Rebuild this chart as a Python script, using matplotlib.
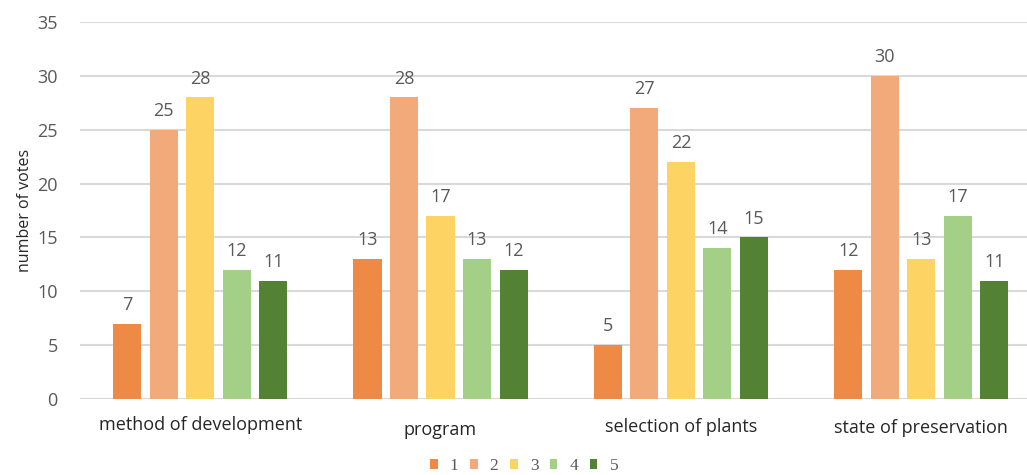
import matplotlib
matplotlib.use("Agg")
import matplotlib.pyplot as plt
import matplotlib.transforms as mtransforms
import numpy as np

categories = ["method of development", "program", "selection of plants", "state of preservation"]
series_names = ["1", "2", "3", "4", "5"]
values = {
    "1": [7, 13, 5, 12],
    "2": [25, 28, 27, 30],
    "3": [28, 17, 22, 13],
    "4": [12, 13, 14, 17],
    "5": [11, 12, 15, 11],
}
colors = ["#EE8A46", "#F3AA7A", "#FDD463", "#A4CF87", "#548234"]
yticks = [0, 5, 10, 15, 20, 25, 30, 35]

fig = plt.figure(figsize=(10.27, 4.75), dpi=100)
ax = fig.add_axes([80 / 1027, 76 / 475, 947 / 1027, 377 / 475])

x = np.arange(len(categories))
step = 0.152
width = 0.117
text_col = "#595959"
font = "Open Sans"

handles = []
for i, name in enumerate(series_names):
    pos = x + (i - 2) * step
    bars = ax.bar(pos, values[name], width, color=colors[i], label=name, zorder=3)
    handles.append(bars)
    for b, v in zip(bars, values[name]):
        ax.annotate(str(v), (b.get_x() + b.get_width() / 2, v), xytext=(0, 7),
                    textcoords="offset points", ha="center", va="bottom",
                    fontsize=13, color=text_col, family=font)

ax.set_ylim(0, 35)
ax.set_xlim(-0.5, 3.44)
ax.set_yticks(yticks)
ax.set_yticklabels([str(t) for t in yticks], fontsize=13, color=text_col, family=font)
ax.tick_params(axis="y", length=0, pad=16)
ax.grid(axis="y", color="#D9D9D9", linewidth=1.5, zorder=0)
for s in ax.spines.values():
    s.set_visible(False)

ax.set_xticks(x)
ax.set_xticklabels(categories, fontsize=13, color="#262626", family=font)
ax.tick_params(axis="x", length=0, pad=12)
offsets_px = [0, 5, 2, 3]
for lbl, dy in zip(ax.get_xticklabels(), offsets_px):
    lbl.set_transform(lbl.get_transform() + mtransforms.ScaledTranslation(0, -dy / 100, fig.dpi_scale_trans))

ax.set_ylabel("number of votes", fontsize=11.5, color="#262626", family=font, labelpad=3)

leg = fig.legend(handles=handles, labels=series_names, loc="center", bbox_to_anchor=(524 / 1027, 1 - 466 / 475),
                 ncol=5, frameon=False, handlelength=0.45, handleheight=0.5, handletextpad=0.7,
                 columnspacing=0.65, prop={"family": "Liberation Serif", "size": 12.5})
for t in leg.get_texts():
    t.set_color(text_col)

fig.savefig("out.png", dpi=100, facecolor="white")
